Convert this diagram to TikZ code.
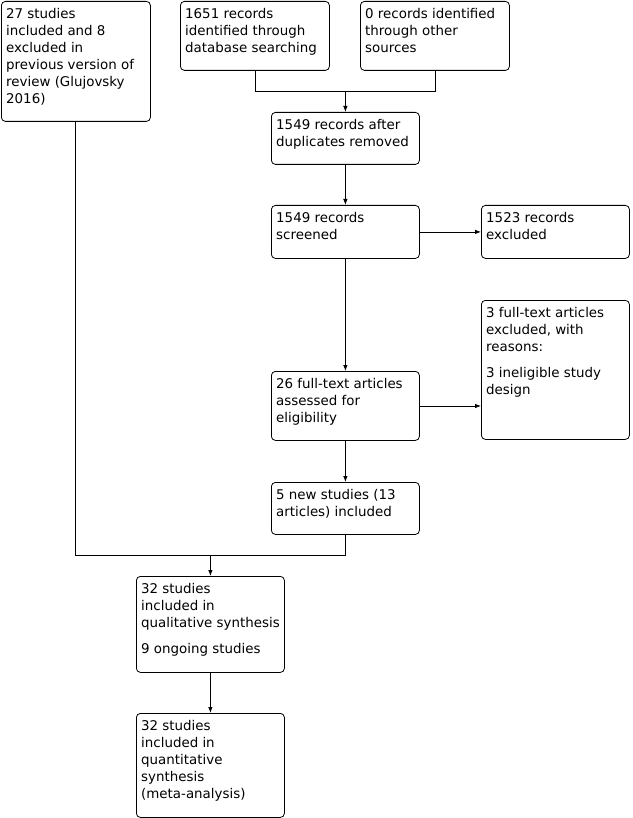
\documentclass[tikz,border=0pt]{standalone}
\usepackage{fontspec}
\setmainfont{DejaVu Sans}
\usetikzlibrary{arrows.meta,calc}
\tikzset{
  flow/.style={draw, line width=0.8pt, rounded corners=4pt, anchor=north west, inner sep=0pt},
  txt/.style={anchor=north west, inner sep=0pt, align=left, font=\fontsize{13.4}{17}\selectfont},
  conn/.style={line width=0.8pt},
  arr/.style={line width=0.8pt, -{Latex[length=6pt,width=4.5pt]}},
}
\newcommand\flowbox[6]{%
  \node[flow, minimum width=#4pt-#2pt, minimum height=#5pt-#3pt] (#1) at (#2,#3) {};
  \node[txt] (#1t) at ($(#1.north west)+(5,7)$) {#6};
}
\begin{document}
\begin{tikzpicture}[x=1pt,y=-1pt]
\useasboundingbox (0,0) rectangle (632,818);
\flowbox{prev}{1}{1}{150}{121}{27 studies\\included and 8\\excluded in\\previous version of\\review (Glujovsky\\2016)}
\flowbox{db}{180}{1}{329}{70}{1651 records\\identified through\\database searching}
\flowbox{other}{360}{1}{509}{70}{0 records identified\\through other\\sources}
\flowbox{dup}{271}{112}{419}{164}{1549 records after\\duplicates removed}
\flowbox{scr}{271}{205}{419}{258}{1549 records\\screened}
\flowbox{exc}{481}{205}{629}{258}{1523 records\\excluded}
\flowbox{ftexc}{481}{300}{629}{439}{3 full-text articles\\excluded, with\\reasons:\\[9pt]3 ineligible study\\design}
\flowbox{ft}{271}{371}{419}{440}{26 full-text articles\\assessed for\\eligibility}
\flowbox{new}{271}{482}{419}{534}{5 new studies (13\\articles) included}
\flowbox{qual}{136}{576}{284}{672}{32 studies\\included in\\qualitative synthesis\\[9pt]9 ongoing studies}
\flowbox{quant}{136}{713}{284}{817}{32 studies\\included in\\quantitative\\synthesis\\(meta-analysis)}
% merge of sources
\coordinate (m1) at (db.south |- 0,91);
\coordinate (m2) at (other.south |- 0,91);
\coordinate (m3) at (dup.north |- 0,91);
\draw[conn] (db.south) -- (m1) -- (m2) -- (other.south);
\draw[arr] (m3) -- (dup.north);
\draw[arr] (dup.south) -- (scr.north);
\draw[arr] (scr.east) -- (exc.west);
\draw[arr] (scr.south) -- (ft.north);
\draw[arr] (ft.east |- 0,406) -- (ftexc.west |- 0,406);
\draw[arr] (ft.south) -- (new.north);
% merge to qualitative
\coordinate (n1) at (75,555);
\coordinate (n2) at (new.south |- 0,555);
\coordinate (n3) at (qual.north |- 0,555);
\draw[conn] (75,121) -- (n1) -- (n2) -- (new.south);
\draw[arr] (n3) -- (qual.north);
\draw[arr] (qual.south) -- (quant.north);
\end{tikzpicture}
\end{document}
